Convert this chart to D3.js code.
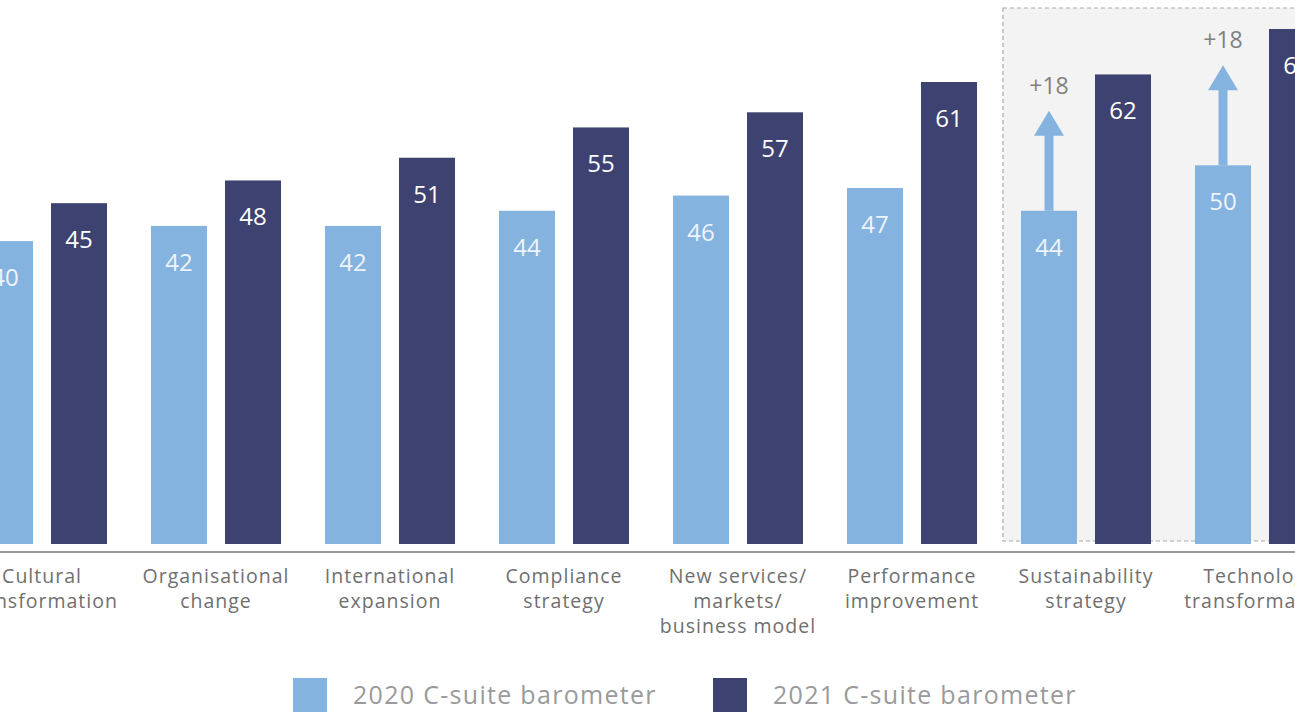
<!DOCTYPE html>
<html>
<head>
<meta charset="utf-8">
<script src="https://cdn.jsdelivr.net/npm/d3@7"></script>
<style>
  html, body { margin: 0; padding: 0; background: #fff; overflow: hidden; }
  svg { display: block; font-family: "Open Sans", sans-serif; }
</style>
</head>
<body>
<div id="chart"></div>
<script>
// categories (label lines) and values
var categories = [
  ["Cultural", "transformation"],
  ["Organisational", "change"],
  ["International", "expansion"],
  ["Compliance", "strategy"],
  ["New services/", "markets/", "business model"],
  ["Performance", "improvement"],
  ["Sustainability", "strategy"],
  ["Technology", "transformation"]
];
var series = ["2020 C-suite barometer", "2021 C-suite barometer"];
var values2020 = [40, 42, 42, 44, 46, 47, 44, 50];
var values2021 = [45, 48, 51, 55, 57, 61, 62, 68];
var highlighted = [6, 7]; // the boxed groups, with +change arrows

var width = 1295, height = 728;
var colors = ["#85b3df", "#3d4270"];

var svg = d3.select("#chart")
  .append("svg")
    .attr("width", width)
    .attr("height", height);

var keys = categories.map(function(d) { return d.join(" "); });

// outer scale runs past both edges, like the cropped original
var x0 = d3.scaleBand()
  .domain(keys)
  .range([-45, 1347])
  .paddingInner(44 / 174)
  .paddingOuter(22 / 174);

var x1 = d3.scaleBand()
  .domain([0, 1])
  .range([0, x0.bandwidth()])
  .paddingInner(18 / 74);

var y = d3.scaleLinear()
  .domain([0, 61])
  .range([544, 82]);

// highlight box
var boxLeft = x0(keys[highlighted[0]]) - 18;
svg.append("rect")
  .attr("x", boxLeft)
  .attr("y", 8)
  .attr("width", width - boxLeft + 10)
  .attr("height", y(0) - 3 - 8)
  .attr("fill", "#f3f3f3")
  .attr("stroke", "#aaa")
  .attr("stroke-width", 1.2)
  .attr("stroke-dasharray", "4,3");

var rows = keys.map(function(k, i) {
  return { key: k, lines: categories[i], vals: [values2020[i], values2021[i]], i: i };
});

var groups = svg.selectAll("g.grp")
  .data(rows)
  .enter().append("g")
    .attr("class", "grp")
    .attr("transform", function(d) { return "translate(" + x0(d.key) + ",0)"; });

groups.selectAll("rect")
  .data(function(d) { return d.vals.map(function(v, s) { return { v: v, s: s }; }); })
  .enter().append("rect")
    .attr("x", function(d) { return x1(d.s); })
    .attr("y", function(d) { return y(d.v); })
    .attr("width", x1.bandwidth())
    .attr("height", function(d) { return y(0) - y(d.v); })
    .attr("fill", function(d) { return colors[d.s]; });

groups.selectAll("text.val")
  .data(function(d) { return d.vals.map(function(v, s) { return { v: v, s: s }; }); })
  .enter().append("text")
    .attr("class", "val")
    .attr("x", function(d) { return x1(d.s) + x1.bandwidth() / 2; })
    .attr("y", function(d) { return y(d.v) + 45; })
    .attr("text-anchor", "middle")
    .attr("font-size", 24)
    .attr("fill", function(d) { return d.s === 0 ? "#eef4fb" : "#ffffff"; })
    .text(function(d) { return d.v; });

// arrows showing the change for the boxed groups
var arrowLen = 100;
highlighted.forEach(function(i) {
  var cx = x0(keys[i]) + x1(0) + x1.bandwidth() / 2;
  var yb = y(values2020[i]);
  var tip = yb - arrowLen;
  svg.append("rect")
    .attr("x", cx - 4.5)
    .attr("y", tip + 24)
    .attr("width", 9)
    .attr("height", arrowLen - 24)
    .attr("fill", colors[0]);
  svg.append("path")
    .attr("d", "M" + (cx - 15) + "," + (tip + 25) + "L" + cx + "," + tip + "L" + (cx + 15) + "," + (tip + 25) + "Z")
    .attr("fill", colors[0]);
  svg.append("text")
    .attr("x", cx)
    .attr("y", tip - 17)
    .attr("text-anchor", "middle")
    .attr("font-size", 23)
    .attr("fill", "#808080")
    .text("+" + (values2021[i] - values2020[i]));
});

// baseline
svg.append("line")
  .attr("x1", 0).attr("x2", width)
  .attr("y1", 552).attr("y2", 552)
  .attr("stroke", "#999")
  .attr("stroke-width", 2);

// category labels
var lab = svg.selectAll("text.cat")
  .data(rows)
  .enter().append("text")
    .attr("class", "cat")
    .attr("x", function(d) { return x0(d.key) + x0.bandwidth() / 2; })
    .attr("y", 583)
    .attr("text-anchor", "middle")
    .attr("font-size", 19.5)
    .attr("letter-spacing", 1)
    .attr("fill", "#6f6f6f");
lab.selectAll("tspan")
  .data(function(d) { return d.lines.map(function(t) { return { t: t, x: x0(d.key) + x0.bandwidth() / 2 }; }); })
  .enter().append("tspan")
    .attr("x", function(d) { return d.x; })
    .attr("dy", function(d, j) { return j === 0 ? 0 : 25; })
    .text(function(d) { return d.t; });

// legend
var legendX = [293, 713];
var legend = svg.selectAll("g.leg")
  .data(series)
  .enter().append("g")
    .attr("class", "leg")
    .attr("transform", function(d, i) { return "translate(" + legendX[i] + ",678)"; });
legend.append("rect")
  .attr("width", 34)
  .attr("height", 34)
  .attr("fill", function(d, i) { return colors[i]; });
legend.append("text")
  .attr("x", 60)
  .attr("y", 26)
  .attr("font-size", 25)
  .attr("letter-spacing", 1.3)
  .attr("fill", "#9a9a9a")
  .text(function(d) { return d; });
</script>
</body>
</html>
